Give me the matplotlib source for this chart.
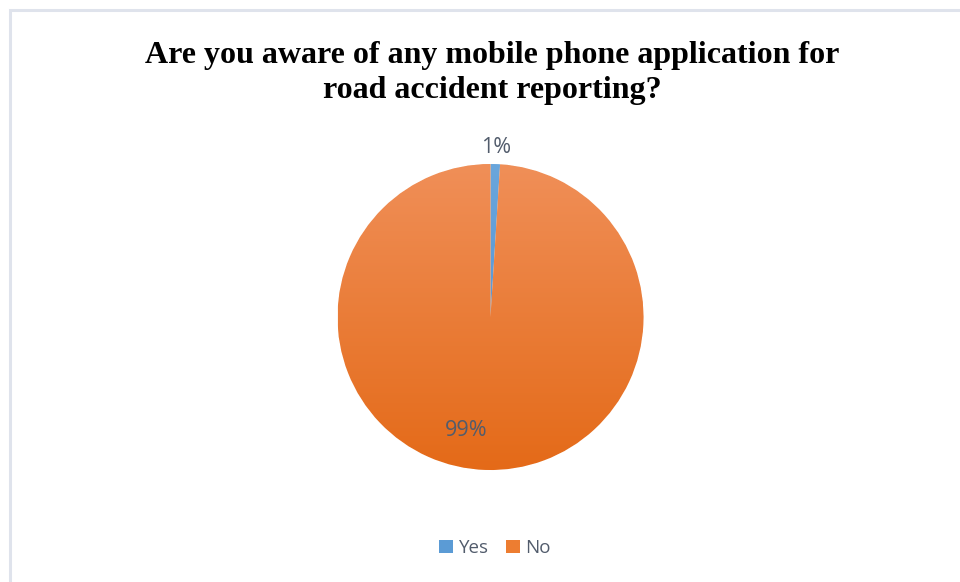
import matplotlib
matplotlib.use("Agg")
import matplotlib.pyplot as plt
from matplotlib.colors import LinearSegmentedColormap
from matplotlib.patches import Rectangle, Patch
import numpy as np

categories = ["Yes", "No"]
values = [1, 99]
title = "Are you aware of any mobile phone application for\nroad accident reporting?"

base_colors = ["#5B9BD5", "#ED7D31"]
grad_colors = [("#4A8BD0", "#6AA6DC"), ("#E46A18", "#F08F58")]
text_color = "#525C6C"

W, H = 960, 582
fig = plt.figure(figsize=(W / 100, H / 100), dpi=100)
fig.patch.set_facecolor("white")

# light frame
fig.add_artist(Rectangle((9.5 / W, -0.05), 1.1, 1 - 9.5 / H + 0.05, transform=fig.transFigure,
                         fill=False, edgecolor="#DFE3EC", lw=2.2))

cx, cy, R = 490.5, 317, 153
ax = fig.add_axes([(cx - R) / W, 1 - (cy + R) / H, 2 * R / W, 2 * R / H])
wedges, texts, autotexts = ax.pie(values, colors=base_colors, startangle=90, counterclock=False,
                                  autopct="%1.0f%%", pctdistance=1.11,
                                  wedgeprops=dict(edgecolor="white", linewidth=0.6),
                                  textprops=dict(color=text_color, fontsize=15.5, family="Open Sans"))

grad = np.linspace(0, 1, 256).reshape(-1, 1)
for w, (c0, c1) in zip(wedges, grad_colors):
    cmap = LinearSegmentedColormap.from_list("g", [c0, c1])
    im = ax.imshow(grad, extent=[-1, 1, -1, 1], origin="lower", cmap=cmap, aspect="auto", zorder=w.get_zorder())
    im.set_clip_path(w)

# place the large slice label inside the slice (best-fit style)
autotexts[1].set_position((-0.16, -0.74))
ax.set_xlim(-1, 1)
ax.set_ylim(-1, 1)
ax.set_aspect("auto")
ax.axis("off")

fig.text(492 / W, 1 - 73 / H, title, ha="center", va="center", fontsize=23, fontweight="bold",
         family="Liberation Serif", linespacing=1.25, color="black")

handles = [Patch(facecolor=c, edgecolor="none") for c in base_colors]
fig.legend(handles, categories, loc="center", bbox_to_anchor=(495 / W, 1 - 548 / H), ncol=2,
           frameon=False, handlelength=0.75, handleheight=0.75, handletextpad=0.3, columnspacing=0.9,
           prop=dict(family="Open Sans", size=13.5), labelcolor=text_color)

fig.savefig("out.png", dpi=100)
